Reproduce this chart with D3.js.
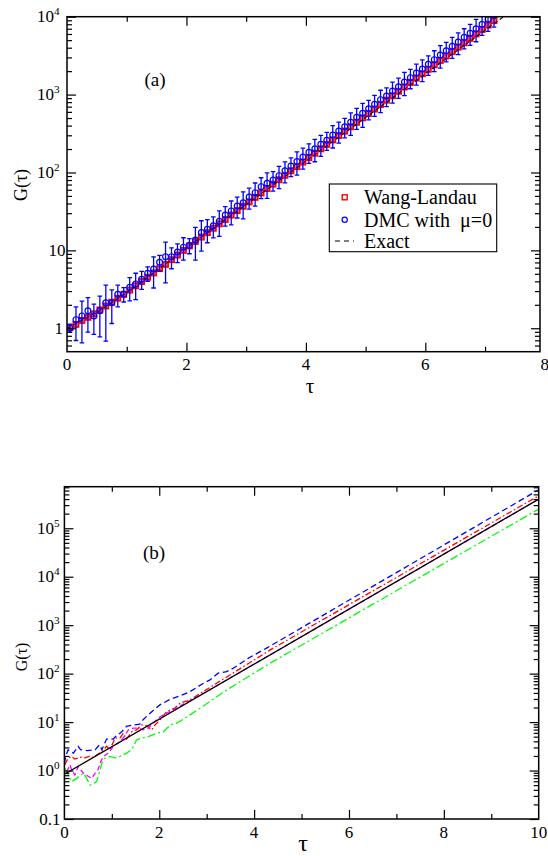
<!DOCTYPE html>
<html>
<head>
<meta charset="utf-8">
<script src="https://cdn.jsdelivr.net/npm/d3@7"></script>
<style>
  html, body { margin: 0; padding: 0; background: #fff; }
  svg { display: block; }
  text { font-family: "Liberation Serif", "Times New Roman", serif; fill: #000; }
</style>
</head>
<body>
<svg id="chart" width="548" height="856"></svg>
<script>
// ---------- Panel (a): imaginary-time correlation G(tau) ----------
const tauA = [0.05,0.15,0.25,0.35,0.45,0.55,0.65,0.75,0.85,0.95,
  1.05,1.15,1.25,1.35,1.45,1.55,1.65,1.75,1.85,1.95,
  2.05,2.15,2.25,2.35,2.45,2.55,2.65,2.75,2.85,2.95,
  3.05,3.15,3.25,3.35,3.45,3.55,3.65,3.75,3.85,3.95,
  4.05,4.15,4.25,4.35,4.45,4.55,4.65,4.75,4.85,4.95,
  5.05,5.15,5.25,5.35,5.45,5.55,5.65,5.75,5.85,5.95,
  6.05,6.15,6.25,6.35,6.45,6.55,6.65,6.75,6.85,6.95,
  7.05,7.15];
const wangLandau = [1.02,1.12,1.26,1.38,1.53,1.72,1.93,2.16,2.43,2.72,
  3.09,3.51,3.98,4.52,5.13,5.82,6.61,7.59,8.71,10.0,
  11.4,13.0,14.8,16.9,19.2,21.9,24.9,28.4,32.4,36.9,
  42.0,47.9,54.6,62.2,70.8,80.7,92.0,105,119,136,
  155,177,201,230,262,298,340,387,441,502,
  572,652,743,847,965,1100,1250,1430,1630,1850,
  2110,2410,2740,3130,3560,4060,4620,5270,6000,6840,
  7790,8880];
const dmc = [1.01,1.29,1.44,1.68,1.44,1.68,2.13,2.13,2.73,2.75,
  3.36,3.71,4.26,5.08,5.77,7.03,8.30,8.30,9.53,11.0,
  11.6,13.6,16.9,18.7,20.7,23.6,28.4,32.1,37.2,40.9,
  48.4,55.1,65.8,72.6,80.2,91.0,105,121,138,158,
  182,202,230,259,303,341,387,441,512,575,
  659,750,861,959,1110,1260,1450,1650,1890,2130,
  2450,2810,3220,3660,4170,4730,5430,6120,7010,7980,
  9270,10500];
// relative statistical error of each DMC point
const dmcRelErr = [0.12,0.46,0.55,0.47,0.42,0.54,0.68,0.46,0.31,0.21,
  0.33,0.37,0.26,0.21,0.43,0.23,0.54,0.30,0.27,0.32,
  0.22,0.45,0.42,0.33,0.30,0.36,0.28,0.34,0.30,0.38,
  0.30,0.33,0.30,0.36,0.28,0.32,0.30,0.27,0.33,0.30,
  0.28,0.32,0.30,0.26,0.32,0.30,0.28,0.32,0.30,0.34,
  0.28,0.30,0.32,0.27,0.30,0.29,0.33,0.28,0.30,0.31,
  0.28,0.30,0.32,0.28,0.30,0.31,0.29,0.30,0.32,0.28,
  0.30,0.30];
const exactTau = [0, 0.5, 1.0, 1.5, 2.0, 3, 4, 5, 6, 7, 7.5];
const exactG   = [1.0, 1.62, 2.88, 5.47, 10.7, 38.7, 140, 508, 1840, 6700, 12800];

const xTicksA = [0, 2, 4, 6, 8];
const yTicksA = [1, 10, 100, 1000, 10000];

// ---------- Panel (b): G(tau) for several runs ----------
const exactB = { tau: [0, 10], g: [0.84, 398000] };
const blueB = {
  tau: [0,0.03,0.08,0.19,0.29,0.34,0.48,0.65,0.74,0.79,0.89,1.03,1.10,1.21,1.31,1.45,1.59,1.66,1.80,2.02,2.23,2.44,2.65,2.93,3.07,3.24,3.42,3.56,3.88,4.27,10],
  g:   [1.41,2.0,2.69,2.29,3.16,2.69,2.57,2.69,3.39,2.69,4.47,4.47,5.25,6.31,8.13,8.71,9.12,11.2,15.1,22.9,29.5,34.7,42.7,63.1,74.1,102,110,129,209,339,622000]
};
const redB = {
  tau: [0.01,0.08,0.15,0.22,0.33,0.43,0.54,0.61,0.68,0.79,0.89,0.96,1.07,1.17,1.24,1.31,1.42,1.52,1.63,1.74,1.84,1.91,2.02,2.16,2.33,2.44,2.65,4.34,10],
  g:   [1.32,1.82,1.95,1.72,1.88,1.82,2.0,1.82,2.09,2.45,3.16,2.69,4.68,4.68,5.89,4.47,6.31,6.92,8.71,8.32,6.92,8.71,11.2,16.6,19.5,24.5,28.8,309,468000]
};
const magentaB = {
  tau: [0.05,0.12,0.15,0.22,0.29,0.40,0.50,0.58,0.65,0.71,0.75,0.82,0.93,1.03,1.14,1.24,1.35,1.45,1.56,1.66,1.77,1.87,2.02,3,4,10],
  g:   [0.955,1.32,1.04,0.81,1.2,0.89,0.76,0.69,0.89,1.04,1.41,1.95,2.29,3.16,3.72,4.68,6.92,7.5,7.5,6.92,7.5,9.55,12.9,42.7,157,398000]
};
const greenB = {
  tau: [0.01,0.08,0.15,0.26,0.40,0.47,0.54,0.68,0.79,0.86,0.96,1.07,1.17,1.31,1.42,1.52,1.63,1.77,1.95,2.09,2.23,2.37,2.54,2.65,3.42,4.34,10],
  g:   [1.12,0.81,0.59,0.69,0.89,0.69,0.50,0.59,1.41,1.82,1.95,1.82,1.95,2.29,2.69,4.27,4.68,5.01,5.89,6.31,8.71,9.55,12.0,14.1,45.7,165,248000]
};
const xTicksB = [0, 2, 4, 6, 8, 10];
const yTicksB = [0.1, 1, 10, 100, 1000, 10000, 100000];

// ---------- drawing ----------
const svg = d3.select("#chart");

function minorLogTicks(lo, hi) {
  const out = [];
  for (let e = Math.floor(Math.log10(lo)); e <= Math.ceil(Math.log10(hi)); e++) {
    for (let d = 2; d <= 9; d++) {
      const v = d * Math.pow(10, e);
      if (v > lo && v < hi) out.push(v);
    }
  }
  return out;
}

function frame(g, x, y, xMajor, xMinor, yMajor, yMinor) {
  const [x0, x1] = x.range();
  const [y0, y1] = y.range();
  const styleTicks = sel => {
    sel.select(".domain").remove();
    sel.selectAll(".tick line").attr("stroke", "#000").attr("stroke-width", 1.2);
    sel.selectAll(".tick text").remove();
  };
  const maj = 9, mnr = 5;
  g.append("g").attr("transform", `translate(0,${y0})`)
    .call(d3.axisBottom(x).tickValues(xMajor).tickSize(-maj)).call(styleTicks);
  g.append("g").attr("transform", `translate(0,${y0})`)
    .call(d3.axisBottom(x).tickValues(xMinor).tickSize(-mnr)).call(styleTicks);
  g.append("g").attr("transform", `translate(0,${y1})`)
    .call(d3.axisTop(x).tickValues(xMajor).tickSize(-maj)).call(styleTicks);
  g.append("g").attr("transform", `translate(0,${y1})`)
    .call(d3.axisTop(x).tickValues(xMinor).tickSize(-mnr)).call(styleTicks);
  g.append("g").attr("transform", `translate(${x0},0)`)
    .call(d3.axisLeft(y).tickValues(yMajor).tickSize(-maj)).call(styleTicks);
  g.append("g").attr("transform", `translate(${x0},0)`)
    .call(d3.axisLeft(y).tickValues(yMinor).tickSize(-mnr)).call(styleTicks);
  g.append("g").attr("transform", `translate(${x1},0)`)
    .call(d3.axisRight(y).tickValues(yMajor).tickSize(-maj)).call(styleTicks);
  g.append("g").attr("transform", `translate(${x1},0)`)
    .call(d3.axisRight(y).tickValues(yMinor).tickSize(-mnr)).call(styleTicks);
  g.append("rect").attr("x", x0).attr("y", y1).attr("width", x1 - x0).attr("height", y0 - y1)
    .attr("fill", "none").attr("stroke", "#000").attr("stroke-width", 1.5);
}

function powLabel(g, xRight, yc, base, exp, size) {
  const t = g.append("text").attr("x", xRight).attr("y", yc + size * 0.33)
    .attr("text-anchor", "end").attr("font-size", size);
  t.append("tspan").text(base);
  if (exp !== null) t.append("tspan").attr("dy", -size * 0.42).attr("font-size", size * 0.66).text(exp);
}

// ---- panel (a) ----
{
  const x = d3.scaleLinear().domain([0, 7.92]).range([67, 540]);
  const y = d3.scaleLog().domain([0.5, 1e4]).range([351.7, 16.7]);
  const g = svg.append("g");
  g.append("clipPath").attr("id", "clipA").append("rect")
    .attr("x", 67).attr("y", 16.7).attr("width", 473).attr("height", 335);
  const plot = g.append("g").attr("clip-path", "url(#clipA)");

  // Wang-Landau squares
  const s = 5.2;
  plot.selectAll("rect.wl").data(wangLandau).join("rect")
    .attr("x", (d, i) => x(tauA[i]) - s / 2).attr("y", d => y(d) - s / 2)
    .attr("width", s).attr("height", s)
    .attr("fill", "#ff6a6a").attr("stroke", "#ff0000").attr("stroke-width", 1.7);

  // exact curve
  plot.append("path")
    .datum(exactTau.map((t, i) => [t, exactG[i]]))
    .attr("d", d3.line().x(d => x(d[0])).y(d => y(d[1])).curve(d3.curveMonotoneX))
    .attr("fill", "none").attr("stroke", "#000").attr("stroke-width", 1.1)
    .attr("stroke-dasharray", "4,3");

  // DMC error bars and circles
  const eb = plot.append("g").attr("stroke", "#0000ff").attr("stroke-width", 1.3);
  dmc.forEach((v, i) => {
    const cx = x(tauA[i]);
    const lo = Math.max(v * (1 - dmcRelErr[i]), 1e-3), hi = v * (1 + dmcRelErr[i]);
    eb.append("line").attr("x1", cx).attr("x2", cx).attr("y1", y(lo)).attr("y2", y(hi));
    eb.append("line").attr("x1", cx - 2.3).attr("x2", cx + 2.3).attr("y1", y(lo)).attr("y2", y(lo));
    eb.append("line").attr("x1", cx - 2.3).attr("x2", cx + 2.3).attr("y1", y(hi)).attr("y2", y(hi));
  });
  plot.selectAll("circle.dmc").data(dmc).join("circle")
    .attr("cx", (d, i) => x(tauA[i])).attr("cy", d => y(d)).attr("r", 2.9)
    .attr("fill", "none").attr("stroke", "#0000ff").attr("stroke-width", 1.2);

  frame(g, x, y, [2, 4, 6], [1, 3, 5, 7], yTicksA, minorLogTicks(0.5, 1e4));

  // tick labels
  xTicksA.forEach(t => g.append("text").attr("x", x(t)).attr("y", 369.5)
    .attr("text-anchor", "middle").attr("font-size", 17).text(t));
  powLabel(g, 63, y(1), "1", null, 17);
  powLabel(g, 65.5, y(10), "10", null, 17);
  [[100, "2"], [1000, "3"], [10000, "4"]].forEach(([v, e]) => powLabel(g, 59.5, y(v), "10", e, 17));

  g.append("text").attr("x", 310).attr("y", 393).attr("text-anchor", "middle")
    .attr("font-size", 21).text("τ");
  g.append("text").attr("transform", "translate(27,185) rotate(-90)")
    .attr("text-anchor", "middle").attr("font-size", 18).text("G(τ)");
  g.append("text").attr("x", 155).attr("y", 86).attr("text-anchor", "middle")
    .attr("font-size", 19).text("(a)");

  // legend
  const lg = g.append("g");
  lg.append("rect").attr("x", 329.3).attr("y", 184).attr("width", 167.4).attr("height", 67.7)
    .attr("fill", "#fff").attr("stroke", "#000").attr("stroke-width", 1.1);
  lg.append("rect").attr("x", 344.7 - 2.5).attr("y", 197.3 - 2.5).attr("width", 5).attr("height", 5)
    .attr("fill", "none").attr("stroke", "#ff0000").attr("stroke-width", 1.4);
  lg.append("circle").attr("cx", 344.7).attr("cy", 219.7).attr("r", 2.6)
    .attr("fill", "none").attr("stroke", "#0000ff").attr("stroke-width", 1.2);
  lg.append("line").attr("x1", 335).attr("x2", 354).attr("y1", 241).attr("y2", 241)
    .attr("stroke", "#000").attr("stroke-width", 1.1).attr("stroke-dasharray", "5,4");
  [["Wang-Landau", 203.5], ["DMC with  μ=0", 226.5], ["Exact", 248]].forEach(([t, yy]) =>
    lg.append("text").attr("x", 364).attr("y", yy).attr("font-size", 20)
      .attr("xml:space", "preserve").style("white-space", "pre").text(t));
}

// ---- panel (b) ----
{
  const x = d3.scaleLinear().domain([0, 10]).range([64.4, 538.7]);
  const y = d3.scaleLog().domain([0.1, 7.2e5]).range([819, 486.7]);
  const g = svg.append("g");
  g.append("clipPath").attr("id", "clipB").append("rect")
    .attr("x", 64.4).attr("y", 486.7).attr("width", 474.3).attr("height", 332.3);
  const plot = g.append("g").attr("clip-path", "url(#clipB)");
  const line = d3.line().x(d => x(d[0])).y(d => y(d[1]));
  const series = [
    [blueB, "#0000ff", "6,3.5"],
    [redB, "#ff0000", "6,2.5,1.5,2.5"],
    [greenB, "#00ff00", "8,3,2,3"],
    [magentaB, "#ff00ff", "5,3"],
    [exactB, "#000", null]
  ];
  series.forEach(([s, c, dash]) => {
    const p = plot.append("path").datum(s.tau.map((t, i) => [t, s.g[i]]))
      .attr("d", line).attr("fill", "none").attr("stroke", c).attr("stroke-width", 1.3);
    if (dash) p.attr("stroke-dasharray", dash);
  });

  frame(g, x, y, [2, 4, 6, 8], [1, 3, 5, 7, 9], yTicksB, minorLogTicks(0.1, 7.2e5));

  xTicksB.forEach(t => g.append("text").attr("x", x(t)).attr("y", 838)
    .attr("text-anchor", "middle").attr("font-size", 17).text(t));
  powLabel(g, 60.5, y(0.1), "0.1", null, 17);
  [[1, "0"], [10, "1"], [100, "2"], [1000, "3"], [10000, "4"], [100000, "5"]]
    .forEach(([v, e]) => powLabel(g, 59.5, y(v), "10", e, 17));

  g.append("text").attr("x", 303).attr("y", 851).attr("text-anchor", "middle")
    .attr("font-size", 24).text("τ");
  g.append("text").attr("transform", "translate(27,657) rotate(-90)")
    .attr("text-anchor", "middle").attr("font-size", 16).text("G(τ)");
  g.append("text").attr("x", 154).attr("y", 559).attr("text-anchor", "middle")
    .attr("font-size", 19).text("(b)");
}
</script>
</body>
</html>
